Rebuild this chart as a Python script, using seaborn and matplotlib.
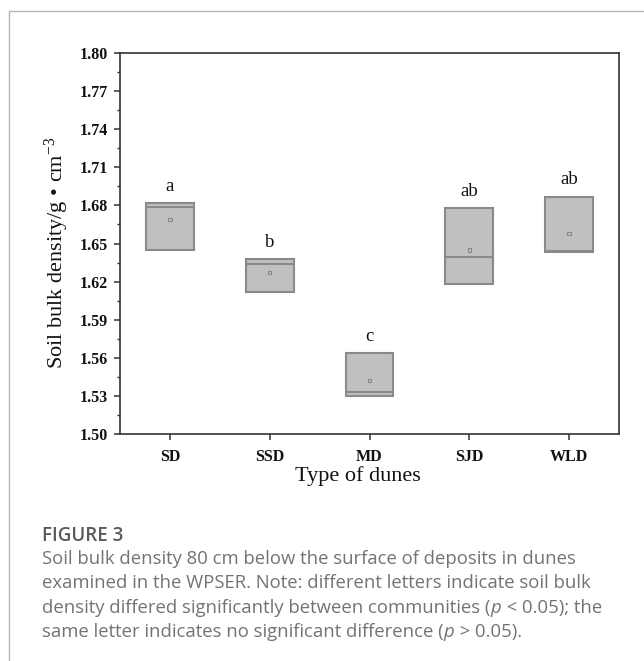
import numpy as np
import pandas as pd
import matplotlib
matplotlib.use("Agg")
import matplotlib.pyplot as plt
from matplotlib.ticker import MultipleLocator, FixedLocator
from matplotlib.lines import Line2D
import seaborn as sns

# ---- data ----
categories = ["SD", "SSD", "MD", "SJD", "WLD"]
q1 = [1.645, 1.612, 1.530, 1.618, 1.643]
median = [1.679, 1.634, 1.533, 1.639, 1.644]
q3 = [1.682, 1.638, 1.564, 1.678, 1.687]
mean = [1.669, 1.627, 1.542, 1.645, 1.658]
letters = ["a", "b", "c", "ab", "ab"]
y_ticks = [1.50, 1.53, 1.56, 1.59, 1.62, 1.65, 1.68, 1.71, 1.74, 1.77, 1.80]

sns.set_style("ticks")
plt.rcParams["font.family"] = ["Liberation Serif", "DejaVu Serif"]
plt.rcParams["mathtext.fontset"] = "custom"
plt.rcParams["mathtext.rm"] = "Liberation Serif"
plt.rcParams["mathtext.it"] = "Liberation Serif:italic"

W, H = 644, 661
fig = plt.figure(figsize=(W / 100, H / 100), dpi=100)
ax = fig.add_axes([120 / W, 1 - 434 / H, (619 - 120) / W, (434 - 53) / H])

df = pd.DataFrame({"type": categories, "q1": q1, "q3": q3,
                   "height": np.array(q3) - np.array(q1)})

box_fill = "#c0c0c0"
box_edge = "#8a8a8a"
sns.barplot(data=df, x="type", y="height", bottom=df["q1"].values,
            width=0.48, color=box_fill, edgecolor=box_edge, linewidth=1.5,
            saturation=1, ax=ax, zorder=2)
for p in ax.patches:
    p.set_facecolor(box_fill)

pos = np.arange(len(categories))
ax.hlines(median, pos - 0.24, pos + 0.24, colors=box_edge, linewidth=1.5, zorder=3)
sns.scatterplot(x=pos, y=mean, marker="s", s=6, facecolor="none",
                edgecolor="#888888", linewidth=0.8, ax=ax, zorder=4, legend=False)

for i, (t, top) in enumerate(zip(letters, q3)):
    ax.text(i, top + 0.013, t, ha="center", va="center", fontsize=13.5,
            color="#111111")

ax.set_xlim(-0.5, len(categories) - 0.5)
ax.set_ylim(1.50, 1.80)
ax.yaxis.set_major_locator(FixedLocator(y_ticks))
ax.yaxis.set_minor_locator(MultipleLocator(0.015))
ax.set_yticklabels([f"{v:.2f}" for v in y_ticks])
ax.set_xticks(pos)
ax.set_xticklabels(categories)

spine_c = "#333333"
for s in ax.spines.values():
    s.set_visible(True)
    s.set_color(spine_c)
    s.set_linewidth(1.2)
ax.tick_params(axis="y", which="major", direction="out", length=4.5, width=1.1,
               color=spine_c, labelsize=11.5, pad=4, left=True, right=False)
ax.tick_params(axis="y", which="minor", direction="out", length=2.5, width=1.0,
               color=spine_c, left=True, right=False)
ax.tick_params(axis="x", which="major", direction="out", length=4.5, width=1.1,
               color=spine_c, labelsize=11.5, pad=6, bottom=True, top=False)
ax.tick_params(axis="x", which="minor", bottom=False, top=False)
for lab in ax.get_xticklabels() + ax.get_yticklabels():
    lab.set_fontweight("bold")
    lab.set_color("#111111")

ax.set_xlabel("Type of dunes", fontsize=16, color="#111111")
ax.xaxis.set_label_coords((358 - 120) / 499, (434 - 476) / 381)
ax.set_ylabel("Soil bulk density/g \u2022 cm$^{-3}$", fontsize=16, color="#111111")
ax.yaxis.set_label_coords((57 - 120) / 499, (434 - 253) / 381)
ax.xaxis.label.set_va("center")
ax.yaxis.label.set_va("center")
ax.grid(False)

# outer frame lines of the figure card
fig.add_artist(Line2D([9 / W, 1], [1 - 11 / H, 1 - 11 / H], color="#b4b4b4",
                      linewidth=1.0, transform=fig.transFigure))
fig.add_artist(Line2D([9 / W, 9 / W], [0, 1 - 11 / H], color="#b4b4b4",
                      linewidth=1.0, transform=fig.transFigure))

# caption
cap_font = ["Open Sans", "DejaVu Sans"]
cap_size = 13.3
cap_color = "#737373"
fig.text(42 / W, 1 - 541 / H, "FIGURE 3", fontsize=13.5, fontweight="semibold",
         color="#5b5b5b", family=cap_font, va="baseline", ha="left")
caption_lines = [
    "Soil bulk density 80 cm below the surface of deposits in dunes",
    "examined in the WPSER. Note: different letters indicate soil bulk",
    "density differed significantly between communities (",
    "same letter indicates no significant difference (",
]
tails = [None, None, " < 0.05); the", " > 0.05)."]
for k, line in enumerate(caption_lines):
    y = 1 - (564 + 24.3 * k) / H
    t = fig.text(42 / W, y, line, fontsize=cap_size, color=cap_color,
                 family=cap_font, va="baseline", ha="left")
    if tails[k] is not None:
        fig.canvas.draw()
        bb = t.get_window_extent()
        t2 = fig.text(bb.x1 / W, y, "p", fontsize=cap_size, color=cap_color,
                      family=cap_font, style="italic", va="baseline", ha="left")
        fig.canvas.draw()
        bb2 = t2.get_window_extent()
        fig.text((bb2.x1 + 1) / W, y, tails[k], fontsize=cap_size, color=cap_color,
                 family=cap_font, va="baseline", ha="left")

fig.savefig("out.png", dpi=100)
